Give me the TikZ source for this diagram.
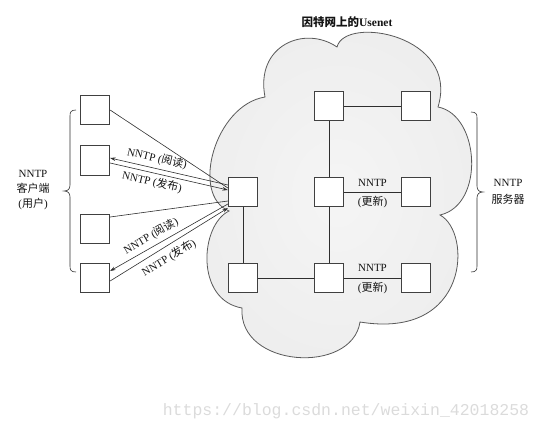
\documentclass[tikz,border=0pt]{standalone}
\usepackage{fontspec}
\setmainfont{Liberation Serif}
\newfontfamily\zhfont{Noto Sans CJK SC}
\newfontfamily\wmfont{Liberation Mono}
\usetikzlibrary{arrows.meta,calc}
\definecolor{cloudA}{gray}{0.96}
\definecolor{cloudB}{gray}{0.93}
\definecolor{cloudC}{gray}{0.84}
\definecolor{cloudline}{gray}{0.35}
\definecolor{boxc}{gray}{0.25}
\definecolor{linec}{gray}{0.18}
\definecolor{txt}{gray}{0.08}
\definecolor{wm}{gray}{0.86}
\pgfdeclareradialshading{cloudshade}{\pgfpoint{0bp}{0bp}}{color(0bp)=(cloudA); color(26bp)=(cloudB); color(50bp)=(cloudC)}
\begin{document}
\begin{tikzpicture}[x=1pt,y=-1pt,
  box/.style={draw=boxc, line width=0.7pt, fill=white, minimum size=29.5pt, inner sep=0pt},
  link/.style={draw=linec, line width=0.6pt},
  arr/.style={link, -{Stealth[length=5.5pt,width=3.6pt]}},
  lbl/.style={font=\fontsize{11}{12}\selectfont, text=txt, inner sep=0pt},
  ]
\useasboundingbox (0,0) rectangle (543,432);
% cloud
\shadedraw[shading=cloudshade, draw=cloudline, line width=0.8pt]
  (265,97) .. controls (255,45) and (305,25) .. (337,47)
  .. controls (345,15) and (460,35) .. (438,107)
  .. controls (480,115) and (485,205) .. (440,215)
  .. controls (472,232) and (470,340) .. (360,322)
  .. controls (352,375) and (238,368) .. (242,308)
  .. controls (195,300) and (200,225) .. (229,211)
  .. controls (190,195) and (215,105) .. (265,97) -- cycle;
% clients
\node[box] (c1) at (95,110) {};
\node[box] (c2) at (95,160.5) {};
\node[box] (c3) at (95,229) {};
\node[box] (c4) at (95,278) {};
% servers
\node[box] (s0) at (243,192) {};
\node[box] (s1) at (243,278) {};
\node[box] (g1) at (329,106) {};
\node[box] (g2) at (416,106) {};
\node[box] (g3) at (329,192) {};
\node[box] (g4) at (416,192) {};
\node[box] (g5) at (329,278) {};
\node[box] (g6) at (416,278) {};
% server links
\draw[link] (g1) -- (g2);
\draw[link] (g1) -- (g3);
\draw[link] (g3) -- (g5);
\draw[link] (s0) -- (s1);
\draw[link] (s1) -- (g5);
\draw[link] (g3) -- (g4);
\draw[link] (g5) -- (g6);
% client links
\draw[link] (c1.east) -- ($(s0.west)+(0,-4)$);
\draw[arr] ($(s0.west)+(0,-7)$) -- ($(c2.east)+(0,-2.5)$);
\draw[arr] ($(c2.east)+(0,2.5)$) -- ($(s0.west)+(0,-2)$);
\draw[link] ($(c3.east)+(0,-12)$) -- ($(s0.west)+(0,9)$);
\draw[arr] ($(s0.west)+(0,12)$) -- ($(c4.east)+(0,-7)$);
\draw[arr] ($(c4.east)+(0,3)$) -- ($(s0.west)+(0,16)$);
% labels on client links
\node[lbl, rotate=-13] (l1) at (157,158.5) {NNTP ({\zhfont 阅读})};
\node[lbl, rotate=-13] (l2) at (152,182) {NNTP ({\zhfont 发布})};
\node[lbl, rotate=30] (l3) at (151,236) {NNTP ({\zhfont 阅读})};
\node[lbl, rotate=31] (l4) at (169,258) {NNTP ({\zhfont 发布})};
% labels on server links
\node[lbl] (u1) at (372.5,183) {NNTP};
\node[lbl] (u2) at (372.5,202) {({\zhfont 更新})};
\node[lbl] (u3) at (372.5,268) {NNTP};
\node[lbl] (u4) at (372.5,288) {({\zhfont 更新})};
% braces
\draw[link] (76,110) .. controls (71,110) and (70,112) .. (70,116) -- (70,185)
  .. controls (70,189) and (68,191) .. (64,191)
  .. controls (68,191) and (70,193) .. (70,197) -- (70,266)
  .. controls (70,270) and (71,272) .. (76,272);
\draw[link] (471,112) .. controls (476,112) and (477,114) .. (477,118) -- (477,186)
  .. controls (477,190) and (479,192) .. (483,192)
  .. controls (479,192) and (477,194) .. (477,198) -- (477,266)
  .. controls (477,270) and (476,272) .. (471,272);
% side labels
\node[lbl, align=center, font=\fontsize{11}{15}\selectfont] (cl) at (33,190) {NNTP\\{\zhfont 客户端}\\({\zhfont 用户})};
\node[lbl, align=center, font=\fontsize{11}{17}\selectfont] (sl) at (508,192) {NNTP\\{\zhfont 服务器}};
% title
\node[lbl, font=\fontsize{11.5}{13}\selectfont\bfseries] (title) at (347,22) {{\zhfont 因特网上的}Usenet};
% watermark
\node[text=wm, font=\wmfont\fontsize{16.5}{18}\selectfont, inner sep=0pt] (wmk) at (346,411) {https://blog.csdn.net/weixin\_42018258};
\end{tikzpicture}
\end{document}
